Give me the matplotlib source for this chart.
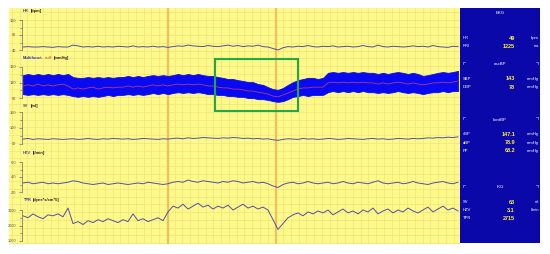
import numpy as np
import matplotlib
matplotlib.use("Agg")
import matplotlib.pyplot as plt
from matplotlib.patches import Rectangle
from matplotlib.ticker import FixedLocator

# ---------------- data ----------------
hr = [48,49,48,48,49,48,47,49,48,48,
      53,51,48,49,48,50,48,49,48,50,
      49,48,51,48,49,48,50,48,49,47,
      49,51,50,53,51,50,49,52,50,49,
      51,53,50,52,49,51,50,53,49,48,
      44,40,46,49,48,50,49,52,49,48,
      50,49,51,48,49,50,48,49,52,49,
      48,53,49,48,50,49,48,49,51,49,
      50,48,52,49,48,47,50,49]

bp_sys = [139,142,139,142,139,142,139,142,139,142,
          134,132,132,134,132,134,132,134,132,134,
          134,137,134,137,134,137,139,137,139,137,
          139,142,139,142,139,142,139,137,137,134,
          132,129,129,126,124,121,121,116,114,108,
          103,101,106,114,121,126,129,132,132,129,
          132,145,147,145,147,145,147,145,147,145,
          145,142,145,142,145,147,145,142,145,142,
          137,139,142,145,147,145,147,150]

bp_dia = [90,88,90,88,90,88,90,88,90,88,
          85,83,85,83,85,83,85,88,85,88,
          88,90,88,90,88,90,93,90,93,90,
          93,95,93,95,93,95,93,90,90,88,
          88,85,85,83,83,80,80,77,77,75,
          72,70,72,77,83,85,88,85,88,88,
          88,95,98,95,98,95,98,95,98,95,
          95,93,95,93,95,98,95,93,95,93,
          90,93,95,95,98,95,98,98]

bp_mean = [111,114,111,116,111,114,111,114,116,111,
           103,106,103,106,108,103,106,108,106,108,
           108,111,108,111,108,111,114,111,114,111,
           114,116,114,116,114,116,114,111,111,108,
           106,106,103,103,101,98,98,95,93,90,
           85,83,88,93,98,103,106,106,108,108,
           108,119,121,119,121,119,121,119,121,119,
           119,116,119,116,119,121,119,116,119,116,
           114,116,119,119,121,119,121,124]

sv = [64,66,63,65,64,63,65,64,63,64,
      65,63,64,66,64,63,65,64,66,65,
      64,65,63,64,66,65,64,63,65,64,
      66,67,65,68,66,67,69,68,67,66,
      68,67,69,68,66,67,65,66,64,65,
      62,60,63,65,64,63,66,64,65,63,
      64,66,65,63,64,66,65,64,63,65,
      66,64,65,63,64,66,65,64,66,65,
      66,68,67,69,68,70,69,71]

hzv = [3.2,3.3,3.1,3.2,3.3,3.1,3.2,3.1,3.2,3.3,
       3.5,3.4,3.2,3.1,3.0,3.1,3.2,3.0,3.1,3.2,
       3.1,3.0,3.1,3.2,3.1,3.3,3.2,3.1,3.0,3.1,
       3.3,3.4,3.3,3.6,3.4,3.3,3.5,3.4,3.3,3.2,
       3.4,3.3,3.5,3.4,3.2,3.3,3.4,3.2,3.3,3.1,
       2.8,2.6,3.0,3.2,3.3,3.1,3.2,3.4,3.2,3.1,
       3.2,3.3,3.1,3.2,3.4,3.2,3.1,3.3,3.2,3.1,
       3.3,3.5,3.2,3.1,3.2,3.3,3.1,3.2,3.4,3.2,
       3.1,3.0,3.2,3.3,3.4,3.2,3.1,3.3]

tpr = [2625,2500,2750,2562,2438,2688,2625,2750,2562,3125,
       2125,2250,2062,2312,2188,2375,2250,2438,2312,2188,
       2375,2250,2750,2312,2438,2250,2375,2500,2312,2875,
       3250,3125,3375,3062,3250,3438,3188,3312,3062,3250,
       3125,3312,3000,3188,3375,3125,3250,3062,3188,3000,
       2375,1750,2125,2500,2688,2812,2625,2875,2750,2938,
       2812,3000,2688,2875,3062,2812,2938,2750,3000,2875,
       3125,2750,2938,3062,2812,3000,2875,3125,2938,2812,
       3000,3188,2875,3062,3250,3000,3125,2938]

hr_ticks = [40, 80, 120]
bp_ticks = [80, 120, 160]
sv_ticks = [50, 100, 150]
hzv_ticks = [2.0, 4.0, 6.0]
tpr_ticks = [1000, 2000, 3000]

panel_rows = [("EKG", [("HR", "49", "bpm"), ("RRI", "1225", "ms")]),
              ("oscBP", [("SBP", "143", "mmHg"), ("DBP", "78", "mmHg")]),
              ("kontBP", [("sBP", "147.1", "mmHg"), ("dBP", "78.9", "mmHg"), ("PP", "68.2", "mmHg")]),
              ("IKG", [("SV", "63", "ml"), ("HZV", "3.1", "l/min"), ("TPR", "2715", "")])]

# ---------------- layout ----------------
W, H = 550, 254
fig = plt.figure(figsize=(W / 100, H / 100), dpi=100)
fig.patch.set_facecolor("white")
plt.rcParams['font.family'] = ['Liberation Sans', 'DejaVu Sans']


def add_ax(x0, y0, x1, y1, **kw):
    return fig.add_axes([x0 / W, 1 - y1 / H, (x1 - x0) / W, (y1 - y0) / H], **kw)


def fx(x):
    return x / W


def fy(y):
    return 1 - y / H


YEL = "#FFF98A"
GRID = "#EEE27E"
TRACE = "#5050A8"

# background with grid
bg = add_ax(9, 8, 460, 244)
bg.set_facecolor(YEL)
bg.set_xlim(0, 451)
bg.set_ylim(236, 0)
bg.set_xticks(np.arange(3, 451, 7.75))
bg.set_yticks(np.arange(4, 236, 7.7))
bg.grid(True, color=GRID, lw=0.45)
bg.tick_params(length=0, labelbottom=False, labelleft=False)
for s in bg.spines.values():
    s.set_visible(False)
for xv in (159, 267):
    bg.axvline(xv, color="#EFC060", lw=1.6)

t = np.arange(len(hr))


def trace_ax(ytop, ybot, lo, hi, ticks):
    a = add_ax(23, ytop, 460, ybot)
    a.patch.set_alpha(0)
    a.set_xlim(0, 87.4)
    a.set_ylim(lo, hi)
    for k in ("top", "right", "bottom"):
        a.spines[k].set_visible(False)
    a.spines["left"].set_color("#666666")
    a.spines["left"].set_linewidth(0.5)
    a.spines["left"].set_position(("outward", 1))
    a.set_xticks([])
    a.set_yticks(ticks)
    a.set_yticklabels([("%g" % v) if not isinstance(v, float) else ("%.1f" % v) for v in ticks])
    a.yaxis.set_minor_locator(FixedLocator([(ticks[0] + ticks[1]) / 2, (ticks[1] + ticks[2]) / 2]))
    a.tick_params(axis="y", which="major", length=2.5, width=0.4, labelsize=2.8,
                  colors="#555555", pad=1.5)
    a.tick_params(axis="y", which="minor", length=1.5, width=0.4, colors="#555555")
    return a


a1 = trace_ax(20, 50, 40, 120, hr_ticks)
a1.plot(t, hr, color=TRACE, lw=0.7, clip_on=False)

a2 = trace_ax(67, 98, 80, 160, bp_ticks)
a2.fill_between(t, bp_dia, bp_sys, color="#0A0AF0", lw=0.6, edgecolor="#0A0AF0", clip_on=False)
a2.plot(t, bp_mean, color="#D0406A", lw=0.5, clip_on=False)

a3 = trace_ax(112, 143.5, 50, 150, sv_ticks)
a3.plot(t, sv, color=TRACE, lw=0.7, clip_on=False)

a4 = trace_ax(162, 192, 2.0, 6.0, hzv_ticks)
a4.plot(t, hzv, color=TRACE, lw=0.7, clip_on=False)

a5 = trace_ax(210, 241, 1000, 3000, tpr_ticks)
a5.plot(t, tpr, color=TRACE, lw=0.7, clip_on=False)

# panel titles
LBL_BLUE = "#3030B0"
fs_l = 2.9
labels = [
    (11, [(23, "HR", LBL_BLUE), (31, "[bpm]", "#222222")]),
    (58, [(23, "Multifunct.", LBL_BLUE), (45, "cuff", "#E07020"), (54, "[mmHg]", "#222222")]),
    (106, [(23, "SV", "#555577"), (31, "[ml]", "#222222")]),
    (153, [(23, "HZV", "#555577"), (33, "[l/min]", "#222222")]),
    (200, [(23, "TPR", LBL_BLUE), (33, "[dyne*s/cm*5]", "#222222")]),
]
for y, parts in labels:
    for x, s, c in parts:
        fig.text(fx(x), fy(y), s, color=c, fontsize=fs_l, fontweight="bold", va="center", ha="left")

# green highlight box
fig.patches.append(Rectangle((fx(215), fy(111)), fx(298) - fx(215), fy(59) - fy(111),
                             transform=fig.transFigure, fill=False, ec="#22A845", lw=1.5))

# right numeric panel
bp = add_ax(460, 8, 540, 243)
bp.set_facecolor("#0A08A8")
bp.set_xticks([])
bp.set_yticks([])
for s in bp.spines.values():
    s.set_visible(False)

title_y = [13, 64, 120, 187]
row_y = [[38, 46], [79, 87], [134, 143, 151], [202, 210, 218]]
corner_y = [None, 62, 117, 185]
for (title, rows), ty, rys, cy in zip(panel_rows, title_y, row_y, corner_y):
    fig.text(fx(500), fy(ty), title, color="white", fontsize=3.2, ha="center", va="center")
    if cy is not None:
        fig.lines.append(plt.Line2D([fx(463), fx(463), fx(465)], [fy(cy + 2), fy(cy), fy(cy)],
                                    transform=fig.transFigure, color="#C8C8E8", lw=0.4))
        fig.lines.append(plt.Line2D([fx(536), fx(538), fx(538)], [fy(cy), fy(cy), fy(cy + 2)],
                                    transform=fig.transFigure, color="#C8C8E8", lw=0.4))
    for (name, val, unit), ry in zip(rows, rys):
        fig.text(fx(463), fy(ry), name, color="white", fontsize=3.0, ha="left", va="center")
        fig.text(fx(515), fy(ry), val, color="#FFF040", fontsize=4.0, fontweight="bold",
                 ha="right", va="center")
        if unit:
            fig.text(fx(539), fy(ry), unit, color="white", fontsize=3.0, ha="right", va="center")

fig.savefig("out.png", dpi=100, facecolor="white")
